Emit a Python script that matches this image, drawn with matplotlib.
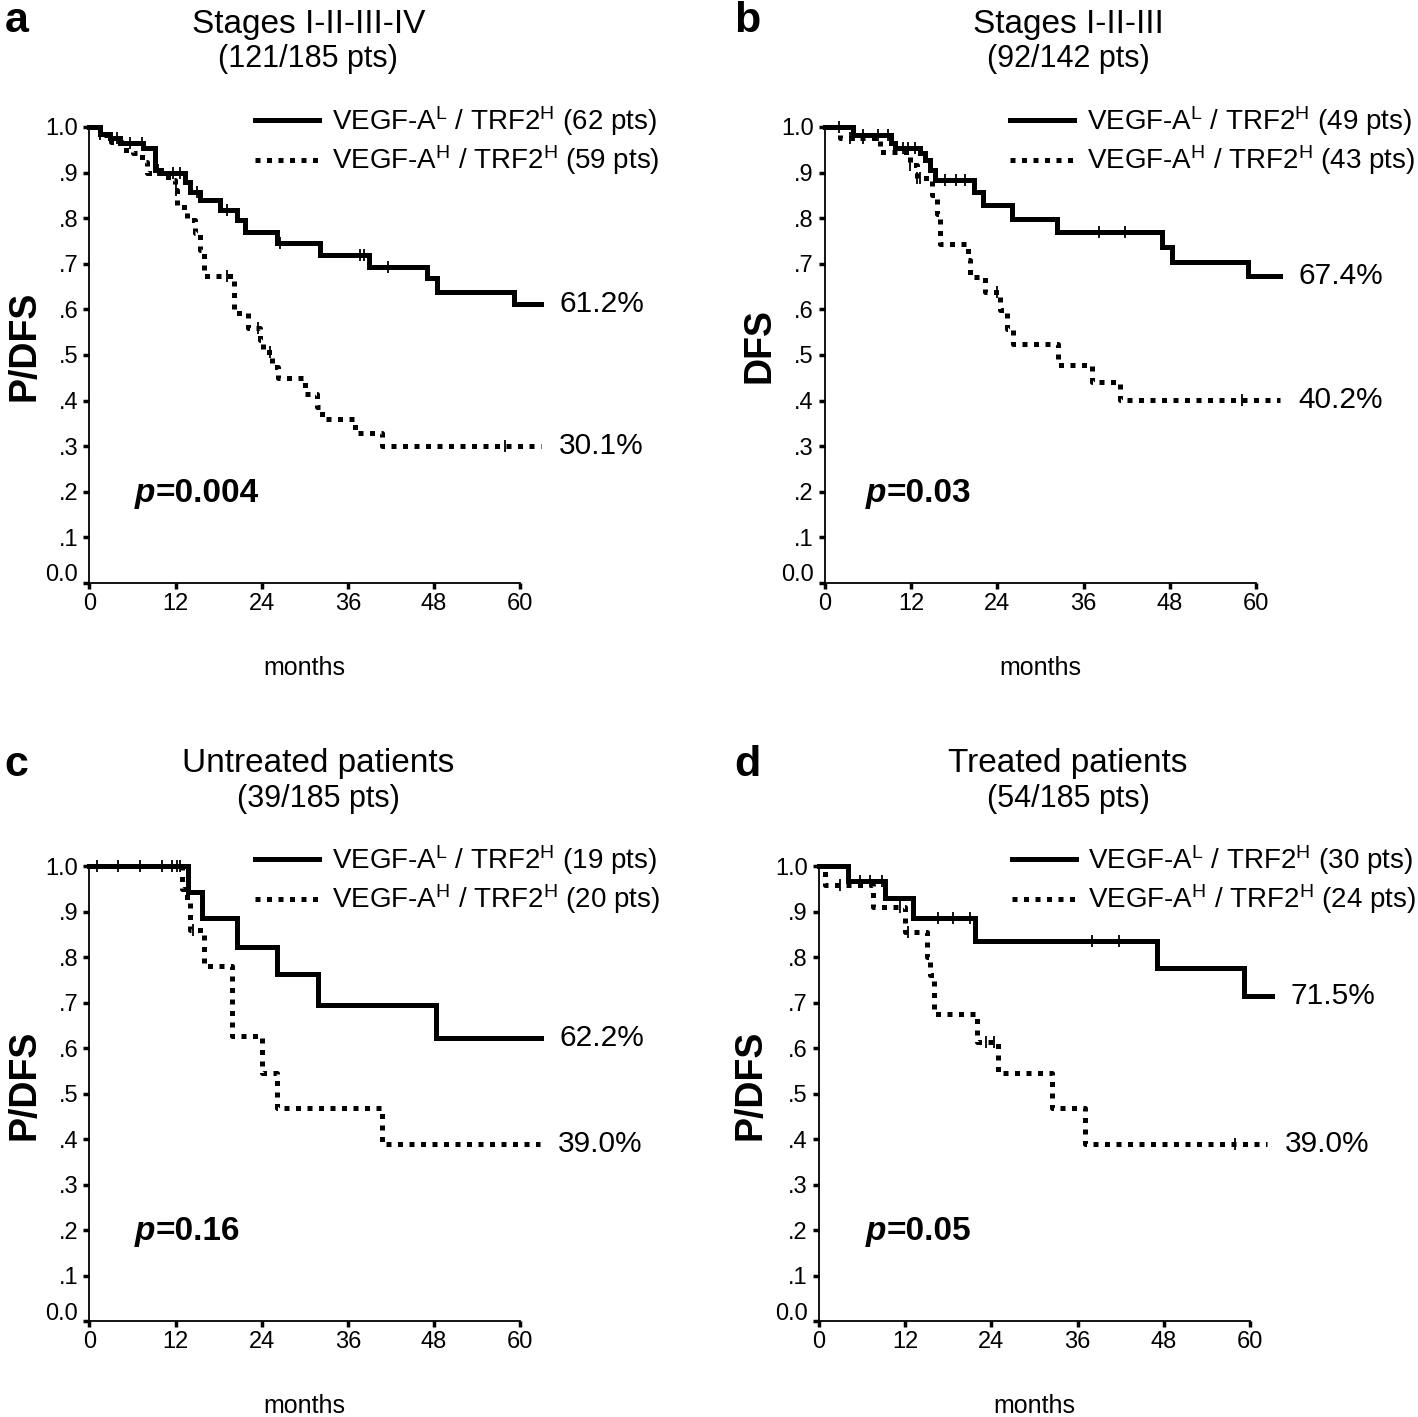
import numpy as np
import matplotlib.pyplot as plt
import matplotlib.transforms as mtransforms

plt.rcParams['font.family'] = ['Liberation Sans', 'DejaVu Sans']
plt.rcParams['mathtext.fontset'] = 'custom'
plt.rcParams['mathtext.rm'] = 'Liberation Sans'
plt.rcParams['mathtext.it'] = 'Liberation Sans:italic'
plt.rcParams['mathtext.bf'] = 'Liberation Sans:bold'

# ---- panel a: stages I-IV ----
a_low_t = [0, 1.5, 2.9, 4.3, 7.5, 9.1, 10.0, 13.3, 14.0, 15.4, 18.2, 20.5, 21.7, 26.1, 32.1, 38.9, 47.0, 48.4, 59.1]
a_low_s = [1.0, 0.984, 0.975, 0.965, 0.953, 0.905, 0.90, 0.88, 0.857, 0.84, 0.818, 0.796, 0.77, 0.745, 0.72, 0.693, 0.668, 0.638, 0.612]
a_low_cens = [1.5, 3.8, 5.7, 7.3, 9.6, 11.7, 12.6, 15.0, 19.1, 26.6, 37.7, 38.2, 41.6]
a_high_t = [0, 1.5, 3.0, 4.5, 6.1, 7.3, 8.0, 11.0, 11.9, 12.2, 13.6, 14.7, 15.4, 16.0, 20.1, 22.1, 23.8, 24.2, 25.4, 26.3, 30.0, 31.7, 32.4, 37.0, 40.7]
a_high_s = [1.0, 0.983, 0.966, 0.95, 0.943, 0.923, 0.90, 0.884, 0.862, 0.824, 0.796, 0.767, 0.73, 0.673, 0.591, 0.56, 0.532, 0.506, 0.473, 0.449, 0.415, 0.385, 0.36, 0.328, 0.30]
a_high_cens = [12.1, 19.1, 23.5, 25.1, 57.9]

# ---- panel b: stages I-III ----
b_low_t = [0, 3.9, 9.2, 9.7, 13.2, 13.9, 14.6, 15.3, 20.7, 22.0, 26.1, 32.3, 46.9, 48.3, 58.9]
b_low_s = [1.0, 0.982, 0.965, 0.954, 0.943, 0.927, 0.905, 0.884, 0.857, 0.829, 0.798, 0.769, 0.736, 0.703, 0.674]
b_low_cens = [1.9, 4.0, 5.3, 7.4, 8.8, 10.9, 11.6, 12.5, 16.7, 18.3, 19.5, 38.1, 41.8]
b_high_t = [0, 2.1, 7.7, 11.8, 12.8, 14.9, 15.6, 16.0, 19.9, 20.2, 22.3, 24.4, 25.3, 26.2, 32.5, 37.2, 41.1]
b_high_s = [1.0, 0.976, 0.945, 0.916, 0.888, 0.85, 0.81, 0.743, 0.708, 0.67, 0.638, 0.598, 0.558, 0.523, 0.479, 0.44, 0.402]
b_high_cens = [3.5, 5.3, 11.8, 12.8, 13.2, 23.9, 58.0]

# ---- panel c: untreated ----
c_low_t = [0, 13.8, 15.7, 20.5, 26.1, 31.9, 48.3]
c_low_s = [1.0, 0.944, 0.885, 0.823, 0.763, 0.695, 0.622]
c_low_cens = [1.0, 4.0, 7.1, 10.1, 11.5, 12.2, 12.6]
c_high_t = [0, 12.9, 13.6, 14.0, 15.9, 19.8, 24.0, 26.1, 40.7]
c_high_s = [1.0, 0.95, 0.92, 0.86, 0.78, 0.627, 0.545, 0.468, 0.39]
c_high_cens = [14.5]

# ---- panel d: treated ----
d_low_t = [0, 4.0, 9.2, 13.1, 21.7, 47.1, 59.1]
d_low_s = [1.0, 0.967, 0.93, 0.886, 0.835, 0.776, 0.715]
d_low_cens = [5.7, 7.1, 8.7, 16.6, 18.7, 21.0, 38.0, 41.7]
d_high_t = [0, 0.8, 7.5, 12.0, 15.0, 15.5, 16.0, 22.0, 24.9, 32.5, 37.0]
d_high_s = [1.0, 0.958, 0.91, 0.855, 0.80, 0.76, 0.675, 0.613, 0.545, 0.468, 0.39]
d_high_cens = [2.9, 11.3, 12.4, 23.3, 24.3, 57.9]

letters = ['a', 'b', 'c', 'd']
titles = ['Stages I-II-III-IV', 'Stages I-II-III', 'Untreated patients', 'Treated patients']
subtitles = ['(121/185 pts)', '(92/142 pts)', '(39/185 pts)', '(54/185 pts)']
ylabels = ['P/DFS', 'DFS', 'P/DFS', 'P/DFS']
n_low = [62, 49, 19, 30]
n_high = [59, 43, 20, 24]
pct_low = ['61.2%', '67.4%', '62.2%', '71.5%']
pct_high = ['30.1%', '40.2%', '39.0%', '39.0%']
pvals = ['=0.004', '=0.03', '=0.16', '=0.05']
end_low = [62.9, 63.4, 62.9, 63.1]
end_high = [62.9, 63.4, 62.7, 62.4]

lows = [(a_low_t, a_low_s, a_low_cens), (b_low_t, b_low_s, b_low_cens),
        (c_low_t, c_low_s, c_low_cens), (d_low_t, d_low_s, d_low_cens)]
highs = [(a_high_t, a_high_s, a_high_cens), (b_high_t, b_high_s, b_high_cens),
         (c_high_t, c_high_s, c_high_cens), (d_high_t, d_high_s, d_high_cens)]

# layout (figure fractions)
rects = [[0.0630, 0.5886, 0.3039, 0.3218], [0.5818, 0.5886, 0.3039, 0.3218],
         [0.0630, 0.0677, 0.3039, 0.3211], [0.5776, 0.0677, 0.3039, 0.3211]]
title_x = [0.508, 0.564, 0.531, 0.578]
leg_x = [0.385, 0.43, 0.385, 0.448]
p_x = [0.106, 0.095, 0.106, 0.109]
ylab_x = [-0.15, -0.151, -0.15, -0.16]
letter_xy = [(0.003, 0.985), (0.518, 0.985), (0.003, 0.46), (0.518, 0.46)]

fig = plt.figure(figsize=(14.18, 14.17), dpi=100)

def step_value(t, s, x):
    i = np.searchsorted(t, x, side='right') - 1
    return np.array(s)[i]

for k in range(4):
    ax = fig.add_axes(rects[k])
    lt, ls, lc = lows[k]
    ht, hs, hc = highs[k]
    lab_low = 'VEGF-A$^{\\mathrm{L}}$ / TRF2$^{\\mathrm{H}}$ (%d pts)' % n_low[k]
    lab_high = 'VEGF-A$^{\\mathrm{H}}$ / TRF2$^{\\mathrm{H}}$ (%d pts)' % n_high[k]
    ax.step(lt + [end_low[k]], ls + [ls[-1]], where='post', color='black', lw=3.6,
            clip_on=False, label=lab_low, solid_joinstyle='miter')
    ax.step(ht + [end_high[k]], hs + [hs[-1]], where='post', color='black', lw=3.6,
            linestyle=(0, (1, 1.3)), dash_capstyle='butt', clip_on=False, label=lab_high)
    ax.plot(lc, step_value(lt, ls, lc), '|', color='black', ms=9, mew=1.3, clip_on=False)
    ax.plot(hc, step_value(ht, hs, hc), '|', color='black', ms=9, mew=1.3, clip_on=False)

    ax.annotate(pct_low[k], xy=(end_low[k], ls[-1]), xytext=(13, 0), textcoords='offset points',
                va='center', ha='left', fontsize=21.5, annotation_clip=False)
    ax.annotate(pct_high[k], xy=(end_high[k], hs[-1]), xytext=(13, 0), textcoords='offset points',
                va='center', ha='left', fontsize=21.5, annotation_clip=False)

    ax.set_xlim(0, 60)
    ax.set_ylim(0, 1)
    ax.set_xticks([0, 12, 24, 36, 48, 60])
    ax.set_yticks(np.arange(0, 1.01, 0.1))
    ax.set_yticklabels(['0.0', '.1', '.2', '.3', '.4', '.5', '.6', '.7', '.8', '.9', '1.0'])
    ax.tick_params(direction='out', length=4, width=2.5, labelsize=17, pad=3)
    ax.tick_params(axis='y', pad=4)
    for sp in ['top', 'right']:
        ax.spines[sp].set_visible(False)
    for sp in ['left', 'bottom']:
        ax.spines[sp].set_linewidth(1.3)
    lab0 = ax.get_yticklabels()[0]
    lab0.set_transform(lab0.get_transform() + mtransforms.ScaledTranslation(0, 10 / 100, fig.dpi_scale_trans))

    ax.text(0.5, -0.186, 'months', transform=ax.transAxes, ha='center', va='center', fontsize=18)
    ax.text(ylab_x[k], 0.52, ylabels[k], transform=ax.transAxes, rotation=90,
            ha='center', va='center', fontsize=27, fontweight='bold')
    ax.text(title_x[k], 1.225, titles[k], transform=ax.transAxes, ha='center', va='center', fontsize=24)
    ax.text(title_x[k], 1.148, subtitles[k], transform=ax.transAxes, ha='center', va='center', fontsize=22)

    tp = ax.text(p_x[k], 0.197, 'p', transform=ax.transAxes, ha='left', va='center',
                 fontsize=24, fontweight='bold', style='italic')
    ax.annotate(pvals[k], xy=(1, 0), xycoords=tp, ha='left', va='bottom',
                fontsize=24, fontweight='bold')

    ax.legend(loc='upper left', bbox_to_anchor=(leg_x[k], 1.05), frameon=False, fontsize=20,
              handlelength=2.3, handletextpad=0.45, labelspacing=0.2, borderpad=0, borderaxespad=0)

    fig.text(letter_xy[k][0], letter_xy[k][1], letters[k], ha='left', va='center',
             fontsize=31, fontweight='bold')

fig.savefig('out.png', dpi=100)
